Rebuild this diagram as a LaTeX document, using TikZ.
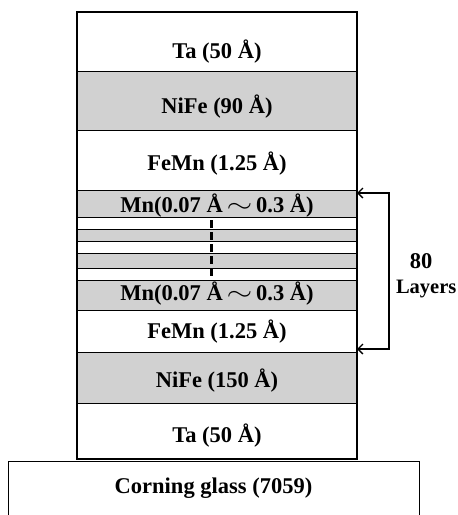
\documentclass[tikz,border=0pt]{standalone}
\usepackage{fontspec}
\setmainfont{Liberation Serif}
\usetikzlibrary{positioning, arrows.meta}
\newcommand{\wave}{\,\scalebox{1.6}[1.2]{$\sim$}\,}

\begin{document}
\begin{tikzpicture}[x=1pt, y=-1pt, >={Straight Barb[length=5pt,width=10pt]},
        txt/.style={font=\fontsize{22.5}{26}\selectfont\bfseries},
        lay/.style={txt, draw, line width=0.8pt, minimum width=280pt, inner sep=0pt, outer sep=0pt, text depth=4pt},
        grey/.style={lay, fill=black!18}]
    \useasboundingbox (0,0) rectangle (458,515);
    \node[lay, minimum height=59pt, text height=37pt] (ta1) at (217,41.5) {Ta (50 Å)};
    \node[grey, minimum height=59pt, text height=29pt, below=0pt of ta1] (nife1) {NiFe (90 Å)};
    \node[lay, minimum height=60pt, text height=24pt, below=0pt of nife1] (femn1) {FeMn (1.25 Å)};
    \node[grey, minimum height=27pt, text height=21pt, below=0pt of femn1] (mn1) {Mn(0.07 Å\wave0.3 Å)};
    \foreach \c/\h/\f [count=\i] in {223/12/white, 235/12/black!18, 247/12/white, 260.5/15/black!18, 274/12/white}
        \node[lay, minimum height=\h pt, fill=\f] (s\i) at (217,\c) {};
    \node[grey, minimum height=30pt, text height=14pt, below=0pt of s5] (mn2) {Mn(0.07 Å\wave0.3 Å)};
    \node[lay, minimum height=42pt, text height=18pt, below=0pt of mn2] (femn2) {FeMn (1.25 Å)};
    \node[grey, minimum height=51pt, text height=23pt, below=0pt of femn2] (nife2) {NiFe (150 Å)};
    \node[lay, minimum height=56pt, text height=26pt, below=0pt of nife2] (ta2) {Ta (50 Å)};
    \draw[line width=2pt] (ta1.north west) rectangle (ta2.south east);
    \node[lay, draw=none, minimum width=411pt, minimum height=54pt, text height=14pt] (glass) at (213.5,488) {Corning glass (7059)};
    \draw[line width=1pt] (glass.south west) |- (glass.north east) -- (glass.south east);
    \coordinate (dtop) at (211,220);
    \coordinate (dbot) at (211,278);
    \draw[line width=3pt, dash pattern=on 8pt off 4pt] (dtop) -- (dbot);
    \draw[<->, line width=1.3pt] ([yshift=-3pt]mn1.north east) -- ++(32,0) |- ([yshift=3pt]femn2.south east);
    \node[txt, anchor=base] (num) at (421,268) {80};
    \node[txt, font=\fontsize{20.5}{24}\selectfont\bfseries, anchor=base west] (lyr) at (392.5,293) {Layers};
\end{tikzpicture}
\end{document}
